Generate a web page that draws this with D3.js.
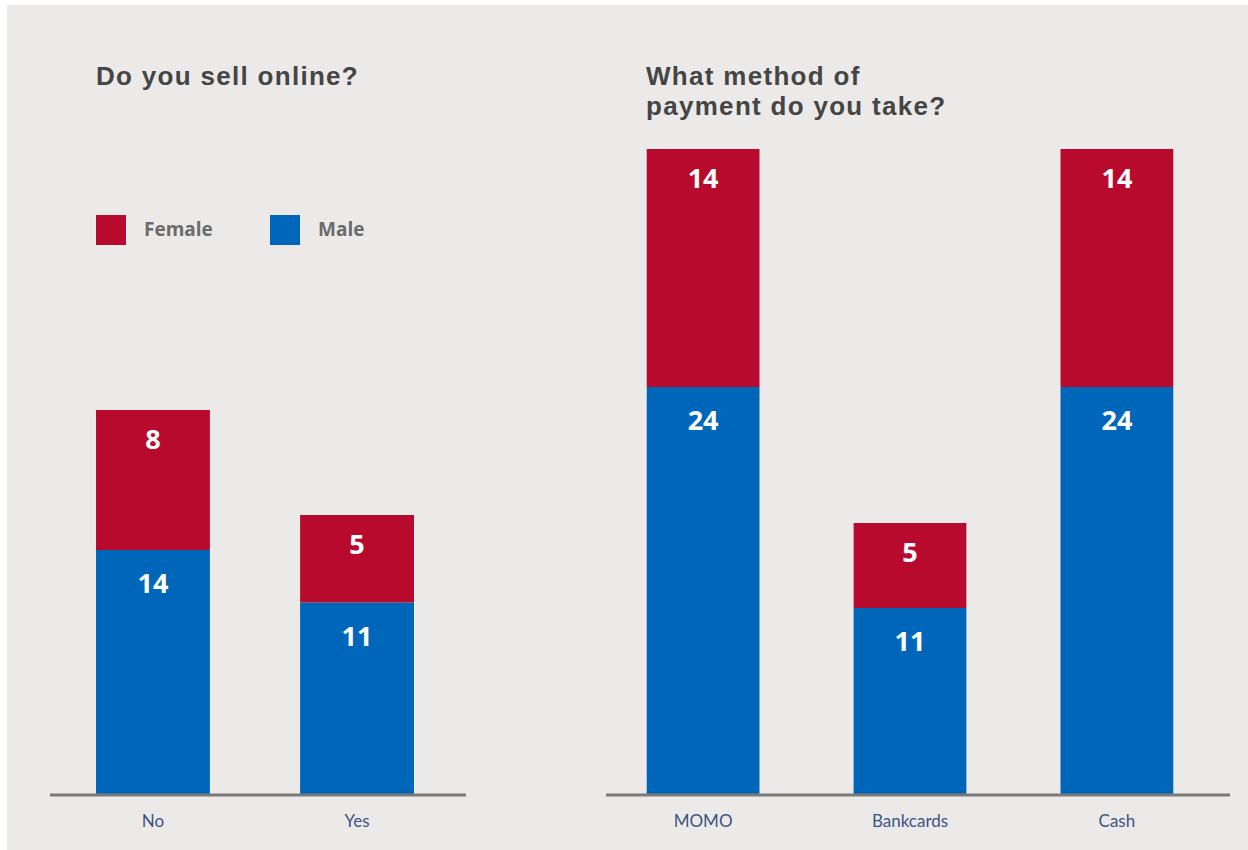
<!DOCTYPE html>
<html>
<head>
<meta charset="utf-8">
<script src="https://cdn.jsdelivr.net/npm/d3@7"></script>
<style>
  html, body { margin: 0; padding: 0; background: #ffffff; }
  svg { display: block; }
  .title { font-family: "Liberation Sans", Arial, sans-serif; font-weight: 700; fill: #454545; letter-spacing: 1.3px; }
  .legend-text { font-family: "Open Sans", Lato, sans-serif; font-weight: 700; fill: #6b6b6b; }
  .value { font-family: "Open Sans", Lato, sans-serif; font-weight: 700; fill: #ffffff; }
  .cat { font-family: Lato, "Open Sans", sans-serif; fill: #3b5584; }
</style>
</head>
<body>
<script>
// Survey answers by gender
const onlineCategories = ["No", "Yes"];
const onlineFemale = [8, 5];
const onlineMale = [14, 11];

const paymentCategories = ["MOMO", "Bankcards", "Cash"];
const paymentFemale = [14, 5, 14];
const paymentMale = [24, 11, 24];

const seriesNames = ["Female", "Male"];
const seriesColors = ["#b70a2c", "#0066ba"];

const W = 1248, H = 850;
const svg = d3.select("body").append("svg").attr("width", W).attr("height", H);

// page panel
svg.append("rect").attr("x", 7).attr("y", 5).attr("width", W - 7).attr("height", H - 5).attr("fill", "#eceae8");

const baseY = 795;

function drawPanel(cfg) {
  const g = svg.append("g");
  const x = d3.scaleBand().domain(cfg.categories).range([cfg.x0, cfg.x1]).paddingInner(cfg.padIn).paddingOuter(cfg.padOut);
  const y = d3.scaleLinear().domain([0, 40]).range([baseY, baseY - 40 * cfg.unit]);

  const rows = cfg.categories.map((c, i) => ({ cat: c, Male: cfg.male[i], Female: cfg.female[i] }));
  const stacked = d3.stack().keys(["Male", "Female"])(rows);
  const colorOf = { Female: seriesColors[0], Male: seriesColors[1] };

  stacked.forEach(layer => {
    g.selectAll(null).data(layer).enter().append("rect")
      .attr("x", d => x(d.data.cat))
      .attr("width", x.bandwidth())
      .attr("y", d => y(d[1]))
      .attr("height", d => y(d[0]) - y(d[1]))
      .attr("fill", colorOf[layer.key]);

    const off = layer.key === "Female" ? 39 : 43;
    g.selectAll(null).data(layer).enter().append("text")
      .attr("class", "value")
      .attr("x", d => x(d.data.cat) + x.bandwidth() / 2)
      .attr("y", d => y(d[1]) + off)
      .attr("text-anchor", "middle")
      .attr("font-size", 27)
      .text(d => d.data[layer.key]);
  });

  // baseline with category labels
  const axis = g.append("g").attr("transform", `translate(0,${baseY})`)
    .call(d3.axisBottom(x).tickSize(0).tickPadding(20));
  axis.select(".domain").attr("d", `M${cfg.lineX0},0H${cfg.lineX1}`).attr("stroke", "#7a7a7a").attr("stroke-width", 3);
  axis.selectAll(".tick text").attr("class", "cat").attr("font-size", 17).attr("dy", "0.71em");

  // title, one text element with a line per tspan
  const title = g.append("text").attr("class", "title").attr("x", cfg.titleX).attr("y", 85).attr("font-size", 26);
  title.selectAll("tspan").data(cfg.title).enter().append("tspan")
    .attr("x", cfg.titleX)
    .attr("dy", (d, i) => i === 0 ? 0 : 30)
    .text(d => d);
}

drawPanel({
  categories: onlineCategories, female: onlineFemale, male: onlineMale,
  x0: 45, x1: 465, padIn: 0.442, padOut: 0.25, unit: 17.5,
  lineX0: 50, lineX1: 466, titleX: 96, title: ["Do you sell online?"]
});

drawPanel({
  categories: paymentCategories, female: paymentFemale, male: paymentMale,
  x0: 595, x1: 1225, padIn: 0.455, padOut: 0.25, unit: 17.0,
  lineX0: 606, lineX1: 1230, titleX: 646, title: ["What method of", "payment do you take?"]
});

// legend
const legend = svg.append("g").attr("transform", "translate(96,215)");
const legendX = [0, 174];
seriesNames.forEach((name, i) => {
  legend.append("rect").attr("x", legendX[i]).attr("y", 0).attr("width", 30).attr("height", 30).attr("fill", seriesColors[i]);
  legend.append("text").attr("class", "legend-text").attr("x", legendX[i] + 48).attr("y", 21)
    .attr("font-size", 19).text(name);
});
</script>
</body>
</html>
